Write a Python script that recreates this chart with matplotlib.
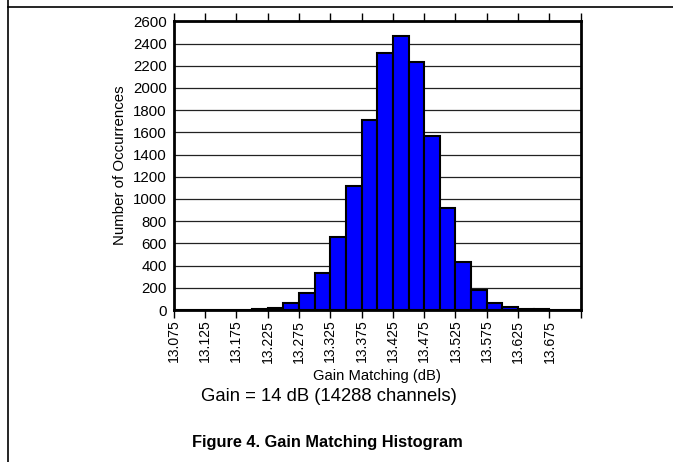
import matplotlib.pyplot as plt
from matplotlib.lines import Line2D
import numpy as np

plt.rcParams['font.family'] = ['Liberation Sans', 'DejaVu Sans']

# bins of 0.025 dB starting at 13.075
bin_starts = np.round(np.arange(13.075, 13.7251 - 0.025, 0.025), 3)
counts = [0, 0, 0, 2, 3, 5, 15, 62, 150, 335, 655, 1120, 1710, 2315,
          2465, 2235, 1570, 920, 432, 183, 64, 25, 8, 5, 0, 0]
tick_vals = np.round(np.arange(13.075, 13.726, 0.05), 3)
tick_labels = ["%.3f" % t for t in tick_vals[:-1]] + [""]
y_ticks = np.arange(0, 2601, 200)

fig = plt.figure(figsize=(6.73, 4.62), dpi=100)
ax = fig.add_axes([0.2581, 0.329, 0.6048, 0.6249])

ax.bar(bin_starts, counts, width=0.025, align="edge", color="#0000ff",
       edgecolor="black", linewidth=1.5, zorder=3)

ax.set_xlim(13.075, 13.725)
ax.set_ylim(0, 2600)
ax.set_yticks(y_ticks)
ax.set_xticks(tick_vals)
ax.set_xticklabels(tick_labels, rotation=90, fontsize=10.1)
ax.tick_params(axis="y", labelsize=10.8, length=0, pad=5)
ax.tick_params(axis="x", direction="out", length=5.5, width=1, top=True,
               labeltop=False, pad=1.5)
ax.grid(axis="y", color="#222222", linewidth=0.9, zorder=0)
for sp in ax.spines.values():
    sp.set_linewidth(2)
    sp.set_zorder(4)

ax.set_xlabel("Gain Matching (dB)", fontsize=10.6)
ax.set_ylabel("Number of Occurrences", fontsize=10.8)
ax.xaxis.set_label_coords(0.5, -0.203)
ax.yaxis.set_label_coords(-0.114, 0.5)

fig.text(0.489, 0.141, "Gain = 14 dB (14288 channels)", fontsize=13.3,
         ha="center", va="center")
fig.text(0.486, 0.043, "Figure 4. Gain Matching Histogram", fontsize=11.75,
         fontweight="bold", ha="center", va="center")

# page frame lines
fig.add_artist(Line2D([8 / 673, 8 / 673], [0, 1], color="black", linewidth=1.2))
fig.add_artist(Line2D([8 / 673, 1], [1 - 7 / 462, 1 - 7 / 462], color="black", linewidth=1.2))

fig.savefig("out.png", dpi=100)
